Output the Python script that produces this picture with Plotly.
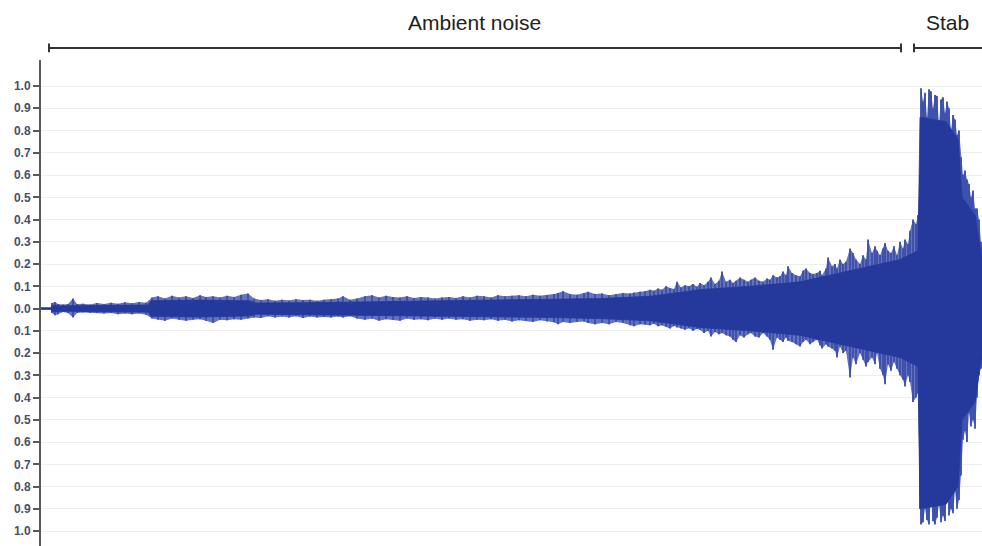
import plotly.graph_objects as go

# ---- data (time in seconds, amplitude normalised) ----
peak_t = [0.11, 0.14, 0.17, 0.22, 0.27, 0.32, 0.36, 0.42, 0.49, 0.56, 0.63, 0.70, 0.77, 0.84, 0.91, 0.98, 1.05,
          1.11, 1.17, 1.24, 1.31, 1.38, 1.45, 1.52, 1.59, 1.65, 1.72, 1.79, 1.86, 1.93, 2.00, 2.07, 2.13, 2.20,
          2.27, 2.34, 2.41, 2.48, 2.55, 2.62, 2.69, 2.76, 2.83, 2.90, 2.97, 3.02, 3.09, 3.16,
          3.24, 3.31, 3.38, 3.45, 3.52, 3.59, 3.66, 3.73, 3.80, 3.87, 3.94, 4.01, 4.08, 4.15, 4.22, 4.29, 4.36,
          4.43, 4.50, 4.57, 4.64, 4.71, 4.78, 4.85, 4.92, 4.99, 5.06, 5.13, 5.17, 5.22, 5.29, 5.36, 5.43, 5.47,
          5.54, 5.61, 5.68, 5.75, 5.82, 5.89, 5.93, 5.99, 6.04, 6.09,
          6.13, 6.17, 6.21, 6.25, 6.29, 6.33, 6.36, 6.40, 6.44, 6.48, 6.52, 6.56, 6.59, 6.63, 6.67, 6.70, 6.74,
          6.78, 6.81, 6.85, 6.89, 6.92, 6.95, 6.99, 7.03, 7.07, 7.10, 7.14, 7.18, 7.22, 7.26, 7.29, 7.32, 7.36,
          7.39, 7.42, 7.45, 7.47, 7.51, 7.55, 7.59, 7.62, 7.65, 7.69, 7.72, 7.76, 7.79, 7.81, 7.85, 7.87, 7.91,
          7.94, 7.96, 7.99, 8.02, 8.05, 8.09, 8.12, 8.15, 8.19, 8.22, 8.25, 8.27, 8.31, 8.34, 8.36, 8.39, 8.42,
          8.44, 8.47, 8.50, 8.53, 8.56, 8.59, 8.62, 8.64, 8.67, 8.69, 8.72, 8.75, 8.77,
          8.79, 8.80, 8.82, 8.84, 8.86, 8.88, 8.90, 8.92, 8.94, 8.96, 8.98, 9.00, 9.02, 9.04, 9.06, 9.08, 9.10,
          9.12, 9.14, 9.16, 9.18, 9.20, 9.22, 9.24, 9.26, 9.28, 9.30, 9.32, 9.34, 9.36, 9.38, 9.40, 9.41]
peak_top = [0.025, 0.03, 0.02, 0.018, 0.02, 0.045, 0.02, 0.022, 0.018, 0.025, 0.02, 0.026, 0.022, 0.028, 0.024, 0.03, 0.026,
            0.05, 0.055, 0.045, 0.058, 0.05, 0.055, 0.048, 0.06, 0.052, 0.055, 0.05, 0.058, 0.052, 0.062, 0.068, 0.045, 0.038,
            0.042, 0.035, 0.04, 0.036, 0.042, 0.038, 0.04, 0.035, 0.04, 0.042, 0.045, 0.055, 0.04, 0.045,
            0.055, 0.06, 0.05, 0.058, 0.052, 0.05, 0.055, 0.048, 0.052, 0.05, 0.045, 0.05, 0.052, 0.048, 0.055, 0.05, 0.058,
            0.055, 0.05, 0.06, 0.055, 0.058, 0.06, 0.055, 0.062, 0.058, 0.06, 0.065, 0.07, 0.078, 0.065, 0.062, 0.07, 0.075,
            0.065, 0.068, 0.06, 0.065, 0.07, 0.068, 0.072, 0.075, 0.078, 0.085,
            0.08, 0.09, 0.085, 0.1, 0.092, 0.088, 0.12, 0.095, 0.105, 0.1, 0.11, 0.098, 0.115, 0.105, 0.12, 0.14, 0.11,
            0.125, 0.167, 0.12, 0.13, 0.115, 0.125, 0.14, 0.13, 0.12, 0.13, 0.14, 0.125, 0.12, 0.135, 0.13, 0.15, 0.14,
            0.145, 0.167, 0.15, 0.19, 0.16, 0.15, 0.145, 0.17, 0.18, 0.16, 0.155, 0.16, 0.17, 0.15, 0.18, 0.23, 0.19,
            0.2, 0.18, 0.22, 0.2, 0.21, 0.27, 0.25, 0.22, 0.2, 0.24, 0.22, 0.31, 0.25, 0.28, 0.26, 0.24, 0.27,
            0.295, 0.26, 0.25, 0.28, 0.24, 0.3, 0.27, 0.31, 0.29, 0.35, 0.4, 0.38, 0.42,
            0.6, 0.99, 0.93, 0.97, 0.86, 0.985, 0.975, 0.9, 0.96, 0.955, 0.83, 0.94, 0.95, 0.88, 0.93, 0.9, 0.8,
            0.87, 0.85, 0.78, 0.8, 0.68, 0.6, 0.62, 0.58, 0.56, 0.5, 0.53, 0.45, 0.45, 0.4, 0.3, 0.28]
peak_bottom = [-0.02, -0.03, -0.025, -0.015, -0.02, -0.04, -0.02, -0.018, -0.02, -0.02, -0.022, -0.02, -0.025, -0.022, -0.026, -0.022, -0.028,
               -0.045, -0.05, -0.055, -0.045, -0.05, -0.055, -0.05, -0.048, -0.055, -0.065, -0.05, -0.052, -0.048, -0.05, -0.045, -0.04, -0.042,
               -0.035, -0.04, -0.036, -0.04, -0.035, -0.042, -0.036, -0.04, -0.038, -0.04, -0.036, -0.04, -0.035, -0.045,
               -0.05, -0.045, -0.055, -0.048, -0.05, -0.055, -0.045, -0.05, -0.048, -0.052, -0.045, -0.05, -0.045, -0.05, -0.048, -0.055, -0.05,
               -0.052, -0.048, -0.055, -0.05, -0.058, -0.052, -0.055, -0.06, -0.052, -0.058, -0.062, -0.07, -0.06, -0.065, -0.06, -0.058, -0.065,
               -0.07, -0.065, -0.07, -0.06, -0.065, -0.075, -0.08, -0.07, -0.072, -0.075,
               -0.068, -0.08, -0.075, -0.082, -0.09, -0.078, -0.085, -0.09, -0.095, -0.088, -0.1, -0.092, -0.095, -0.11, -0.1, -0.125, -0.105,
               -0.115, -0.11, -0.12, -0.125, -0.14, -0.15, -0.12, -0.13, -0.115, -0.11, -0.125, -0.13, -0.11, -0.125, -0.14, -0.185, -0.13,
               -0.14, -0.15, -0.13, -0.145, -0.15, -0.16, -0.17, -0.15, -0.14, -0.16, -0.15, -0.14, -0.165, -0.18, -0.16, -0.17, -0.18,
               -0.19, -0.22, -0.17, -0.2, -0.19, -0.31, -0.22, -0.25, -0.2, -0.23, -0.26, -0.24, -0.22, -0.25, -0.2, -0.27, -0.3,
               -0.34, -0.25, -0.28, -0.24, -0.27, -0.3, -0.32, -0.35, -0.3, -0.33, -0.42, -0.4, -0.38,
               -0.9, -0.97, -0.96, -0.9, -0.95, -0.97, -0.85, -0.955, -0.97, -0.94, -0.88, -0.96, -0.93, -0.955, -0.8, -0.93, -0.9,
               -0.92, -0.82, -0.9, -0.86, -0.75, -0.59, -0.55, -0.6, -0.47, -0.53, -0.5, -0.54, -0.4, -0.3, -0.27, -0.25]

core_t = [0.00, 0.10, 0.11, 0.19, 0.34, 0.59, 1.07, 1.10, 1.59, 2.09, 2.15, 2.59, 3.19, 4.09, 5.09, 5.59, 6.09,
          6.59, 7.09, 7.59, 8.09, 8.59, 8.77, 8.79, 9.05, 9.17, 9.21, 9.34, 9.41]
core_top = [0.004, 0.004, 0.015, 0.012, 0.013, 0.014, 0.016, 0.035, 0.038, 0.035, 0.025, 0.026, 0.03, 0.035, 0.04, 0.045, 0.055,
            0.085, 0.1, 0.12, 0.17, 0.22, 0.26, 0.86, 0.84, 0.76, 0.5, 0.42, 0.22]
core_bottom = [-0.004, -0.004, -0.015, -0.012, -0.012, -0.014, -0.016, -0.035, -0.038, -0.033, -0.025, -0.026, -0.03, -0.035, -0.04, -0.045, -0.055,
               -0.085, -0.1, -0.12, -0.17, -0.22, -0.26, -0.9, -0.88, -0.8, -0.5, -0.42, -0.2]

tick_vals = [round(-1 + 0.1 * i, 1) for i in range(21)]
tick_text = ["1.0", "0.9", "0.8", "0.7", "0.6", "0.5", "0.4", "0.3", "0.2", "0.1", "0.0",
             "0.1", "0.2", "0.3", "0.4", "0.5", "0.6", "0.7", "0.8", "0.9", "1.0"]

seg_labels = ["Ambient noise", "Stab"]
seg_start = [0.08, 8.73]
seg_end = [8.60, 9.60]
seg_label_t = [4.33, 9.06]

X_MAX = 9.41

fig = go.Figure()

# envelope of the peaks
fig.add_trace(go.Scatter(
    x=peak_t + peak_t[::-1], y=peak_top + peak_bottom[::-1],
    mode="lines", fill="toself", fillcolor="rgba(42,60,162,0.72)",
    line=dict(width=0), hoverinfo="skip", showlegend=False))

# vertical spikes
sx, sy = [], []
for t, a, b in zip(peak_t, peak_top, peak_bottom):
    sx += [t, t, None]
    sy += [b, a, None]
fig.add_trace(go.Scatter(x=sx, y=sy, mode="lines",
                         line=dict(color="#3a4eab", width=1.8),
                         hoverinfo="skip", showlegend=False))

# dense core
fig.add_trace(go.Scatter(
    x=core_t + core_t[::-1], y=core_top + core_bottom[::-1],
    mode="lines", fill="toself", fillcolor="#25389b",
    line=dict(width=0.8, color="#25389b"), hoverinfo="skip", showlegend=False))

shapes = []
annotations = []
cap = 0.009
by = 1.0247
for lab, s, e, lt in zip(seg_labels, seg_start, seg_end, seg_label_t):
    shapes.append(dict(type="line", xref="x", yref="paper", x0=s, x1=e, y0=by, y1=by,
                       line=dict(color="#333333", width=2)))
    for xx in (s, e):
        shapes.append(dict(type="line", xref="x", yref="paper", x0=xx, x1=xx, y0=by - cap, y1=by + cap,
                           line=dict(color="#333333", width=2)))
    annotations.append(dict(text=lab, xref="x", yref="paper", x=lt, y=1.078, showarrow=False,
                            font=dict(family="Liberation Sans, Arial, sans-serif", size=21, color="#222222"),
                            xanchor="center", yanchor="middle"))

fig.update_layout(
    width=982, height=546,
    margin=dict(l=41, r=0, t=60, b=0),
    plot_bgcolor="white", paper_bgcolor="white",
    shapes=shapes, annotations=annotations,
    xaxis=dict(visible=False, range=[0, X_MAX]),
    yaxis=dict(range=[-1.067, 1.117], tickvals=tick_vals, ticktext=tick_text, automargin=False,
               showline=True, linecolor="#5a5a5a", linewidth=2,
               ticks="outside", ticklen=6, tickwidth=1.5, tickcolor="#5a5a5a",
               showgrid=True, gridcolor="#eeeeee", gridwidth=1, zeroline=False,
               tickfont=dict(family="Liberation Sans, Arial, sans-serif", size=12, color="#4a4f66", weight="bold")),
)

fig.write_html("out.html", config={"displayModeBar": False},
               post_script="document.body.style.margin='0';document.body.style.overflow='hidden';")
